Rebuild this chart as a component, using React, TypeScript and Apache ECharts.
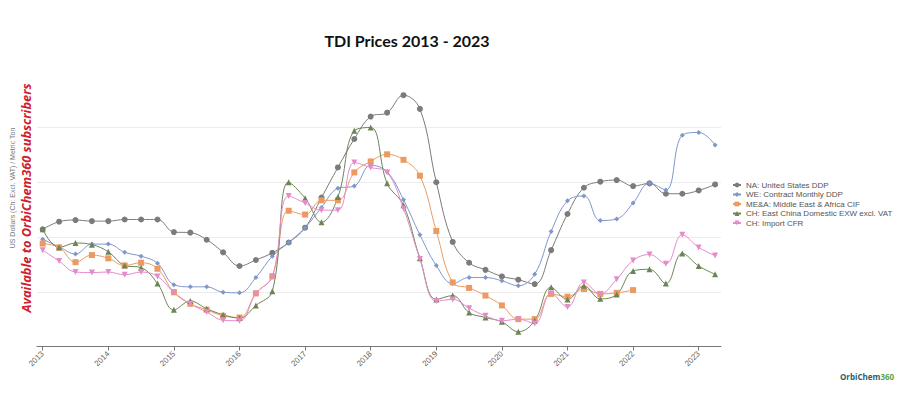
import React, { useEffect, useRef } from "react";
import * as echarts from "echarts";

const quarters: string[] = [];
for (let y = 2013; y <= 2023; y++) {
  for (const m of ["01", "04", "07", "10"]) {
    if (y === 2023 && (m === "07" || m === "10")) continue;
    quarters.push(`${y}-${m}`);
  }
}

const yearTicks = [2013, 2014, 2015, 2016, 2017, 2018, 2019, 2020, 2021, 2022, 2023];

const naUS = [2140, 2280, 2310, 2290, 2290, 2320, 2320, 2320, 2090, 2080, 1950, 1720, 1470, 1580, 1710, 1900, 2170, 2720, 3270, 3790, 4200, 4270, 4590, 4340, 3000, 1910, 1530, 1400, 1280, 1220, 1140, 1760, 2420, 2900, 3010, 3040, 2930, 2980, 2790, 2790, 2850, 2960];
const weContract = [1960, 1820, 1690, 1870, 1870, 1720, 1650, 1520, 1130, 1090, 1090, 990, 980, 1260, 1650, 1900, 2170, 2540, 2890, 2930, 3310, 3190, 2680, 2040, 1480, 1150, 1260, 1260, 1200, 1110, 1320, 2100, 2660, 2750, 2300, 2330, 2620, 2980, 2860, 3860, 3910, 3680];
const meaCif: (number | null)[] = [1880, 1810, 1540, 1670, 1610, 1480, 1530, 1420, 990, 780, 670, 560, 530, 970, 1280, 2480, 2410, 2670, 2670, 3180, 3380, 3510, 3410, 3120, 2110, 1170, 1070, 930, 750, 500, 500, 960, 910, 1050, 960, 980, 1030, null, null, null, null, null];
const chEast = [2140, 1810, 1890, 1860, 1730, 1480, 1440, 1150, 670, 830, 690, 580, 520, 750, 1010, 3000, 2710, 2270, 2730, 3940, 4000, 2980, 2580, 1610, 860, 930, 620, 530, 450, 270, 470, 1080, 860, 1110, 870, 950, 1380, 1410, 1150, 1700, 1470, 1320];
const chImport = [1760, 1560, 1360, 1350, 1360, 1310, 1360, 1280, 990, 780, 630, 480, 470, 970, 1280, 2750, 2620, 2490, 2490, 3360, 3270, 3180, 2520, 1600, 830, 860, 700, 560, 470, 500, 420, 970, 720, 1170, 960, 1230, 1570, 1680, 1510, 2040, 1810, 1660];

const seriesNames = [
  "NA: United States DDP",
  "WE: Contract Monthly DDP",
  "ME&A: Middle East & Africa CIF",
  "CH: East China Domestic EXW excl. VAT",
  "CH: Import CFR",
];

const toX = (q: string) => {
  const [y, m] = q.split("-").map(Number);
  return y + (m - 1) / 12;
};

const pairs = (vals: (number | null)[]) =>
  quarters.map((q, i) => [toX(q), vals[i] == null ? null : vals[i]]).filter((p) => p[1] != null);

export default function App() {
  const ref = useRef<HTMLDivElement>(null);
  useEffect(() => {
    if (!ref.current) return;
    const chart = echarts.init(ref.current, null, { renderer: "svg" });
    const mk = (name: string, vals: (number | null)[], color: string, symbol: string, size: number, rot = 0) => ({
      name,
      type: "line",
      data: pairs(vals),
      smooth: 0.4,
      symbol,
      symbolSize: size,
      symbolRotate: rot,
      showSymbol: true,
      lineStyle: { width: 1, color },
      itemStyle: { color },
      z: 3,
    });
    chart.setOption({
      animation: false,
      backgroundColor: "#ffffff",
      title: {
        text: "TDI Prices 2013 - 2023",
        left: 402,
        top: 27,
        textAlign: "center",
        textStyle: { fontFamily: "Lato", fontWeight: "bold", fontSize: 16, color: "#111" },
      },
      grid: { left: 37, right: 179, top: 72.75, bottom: 48.5, containLabel: false },
      legend: {
        orient: "vertical",
        left: 732,
        top: 181,
        padding: 0,
        width: 165,
        itemWidth: 8,
        itemHeight: 6,
        itemGap: 1.5,
        textStyle: { fontFamily: "Liberation Sans", fontSize: 8, lineHeight: 8, color: "#555", overflow: "none", width: 160 },
        data: seriesNames,
      },
      xAxis: {
        type: "value",
        min: 2012.913,
        max: 2023.34,
        axisLine: { show: true, lineStyle: { color: "#777", width: 1 } },
        axisTick: { show: true, length: 4, customValues: yearTicks, lineStyle: { color: "#777" } },
        axisLabel: {
          customValues: yearTicks,
          rotate: 45,
          fontSize: 8,
          color: "#666",
          fontFamily: "Liberation Sans",
          margin: 6,
          formatter: (v: number) => String(Math.round(v)),
        },
        splitLine: { show: false },
      },
      yAxis: {
        type: "value",
        min: 0,
        max: 5000,
        interval: 1000,
        axisLine: { show: false },
        axisTick: { show: false },
        axisLabel: { show: false },
        splitLine: { show: true, showMinLine: false, showMaxLine: false, lineStyle: { color: "#ececec", width: 1 } },
      },
      graphic: [
        {
          type: "text",
          x: 12,
          y: 188,
          rotation: Math.PI / 2,
          style: {
            text: "US Dollars (Ch: Excl. VAT) / Metric Ton",
            fontFamily: "Liberation Sans",
            fontSize: 7,
            fill: "#777",
            align: "center",
            verticalAlign: "middle",
          },
        },
        {
          type: "text",
          x: 26,
          y: 198,
          rotation: Math.PI / 2,
          style: {
            text: "Available to OrbiChem360 subscribers",
            fontFamily: "Open Sans",
            fontStyle: "italic",
            fontWeight: "bold",
            fontSize: 12.8,
            fill: "#d0202e",
            align: "center",
            verticalAlign: "middle",
          },
        },
        {
          type: "text",
          x: 840,
          y: 376,
          style: {
            text: "{a|OrbiChem}{b|360}",
            verticalAlign: "middle",
            rich: {
              a: { fontFamily: "Open Sans", fontWeight: "bold", fontSize: 8, fill: "#2a6170" },
              b: { fontFamily: "Open Sans", fontWeight: "bold", fontSize: 8, fill: "#5aa646" },
            },
          },
        },
      ],
      series: [
        mk(seriesNames[0], naUS, "#7b7b7b", "circle", 6),
        mk(seriesNames[1], weContract, "#7f97cb", "diamond", 5),
        mk(seriesNames[2], meaCif, "#ec9a62", "rect", 6),
        mk(seriesNames[3], chEast, "#6c8556", "triangle", 6),
        mk(seriesNames[4], chImport, "#e48bcb", "triangle", 6, 180),
      ],
    });
    return () => chart.dispose();
  }, []);
  return <div ref={ref} style={{ position: "absolute", left: 0, top: 0, width: 900, height: 395 }} />;
}
